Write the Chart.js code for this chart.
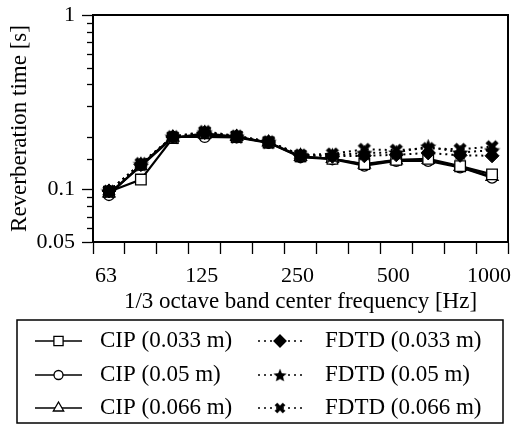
<!DOCTYPE html>
<html>
<head>
<meta charset="utf-8">
<script src="https://cdn.jsdelivr.net/npm/chart.js"></script>
<style>
  html, body { margin: 0; padding: 0; background: #fff; }
  #wrap { width: 512px; height: 428px; }
</style>
</head>
<body>
<div id="wrap"><canvas id="rtChart" width="512" height="428"></canvas></div>
<script>
// band centre frequencies (Hz)
const bands = ['63', '80', '100', '125', '160', '200', '250', '315', '400', '500', '630', '800', '1000'];
const shownBands = ['63', '125', '250', '500', '1000'];
const yTickLabels = [0.05, 0.1, 1];

// reverberation time (s)
const cip033 = [0.097, 0.114, 0.197, 0.210, 0.200, 0.186, 0.155, 0.150, 0.140, 0.148, 0.150, 0.136, 0.122];
const cip050 = [0.093, 0.138, 0.200, 0.200, 0.199, 0.185, 0.153, 0.149, 0.137, 0.146, 0.146, 0.134, 0.117];
const cip066 = [0.095, 0.136, 0.198, 0.206, 0.200, 0.186, 0.154, 0.150, 0.139, 0.147, 0.148, 0.135, 0.118];
const fdtd033 = [0.098, 0.139, 0.200, 0.212, 0.202, 0.187, 0.157, 0.155, 0.156, 0.158, 0.162, 0.157, 0.156];
const fdtd050 = [0.098, 0.140, 0.201, 0.213, 0.202, 0.188, 0.158, 0.157, 0.162, 0.163, 0.176, 0.163, 0.168];
const fdtd066 = [0.098, 0.141, 0.201, 0.215, 0.203, 0.188, 0.158, 0.160, 0.170, 0.168, 0.172, 0.170, 0.176];

const FONT = "'Liberation Serif', 'Times New Roman', serif";

// * custom marker images
function makeStar(size) {
  const c = document.createElement('canvas');
  c.width = size; c.height = size;
  const g = c.getContext('2d');
  const cx = size / 2, cy = size / 2 + 0.8, R = size / 2, r = R * 0.45;
  g.beginPath();
  for (let i = 0; i < 10; i++) {
    const rad = (i % 2 === 0) ? R : r;
    const a = -Math.PI / 2 + i * Math.PI / 5;
    const px = cx + rad * Math.cos(a), py = cy + rad * Math.sin(a);
    if (i === 0) g.moveTo(px, py); else g.lineTo(px, py);
  }
  g.closePath();
  g.fillStyle = '#000';
  g.fill();
  return c;
}
function makeCross(size) {
  const c = document.createElement('canvas');
  c.width = size; c.height = size;
  const g = c.getContext('2d');
  const p = 3;
  g.strokeStyle = '#000';
  g.lineWidth = 4.5;
  g.beginPath();
  g.moveTo(p, p); g.lineTo(size - p, size - p);
  g.moveTo(size - p, p); g.lineTo(p, size - p);
  g.stroke();
  return c;
}
const starImg = makeStar(17);
const crossImg = makeCross(16);

function cipSet(label, data, style, radius) {
  return {
    label: label, data: data, order: 1,
    borderColor: '#000', borderWidth: 2.2,
    pointStyle: style, pointRadius: radius,
    pointBackgroundColor: '#fff', pointBorderColor: '#000', pointBorderWidth: 1.3,
    tension: 0, fill: false
  };
}
function fdtdSet(label, data, style, radius) {
  return {
    label: label, data: data, order: 0,
    borderColor: '#000', borderWidth: 2, borderDash: [2, 4],
    pointStyle: style, pointRadius: radius,
    pointBackgroundColor: '#000', pointBorderColor: '#000', pointBorderWidth: 1,
    tension: 0, fill: false
  };
}

// draws the plot frame, minor y ticks and the boxed legend
const framePlugin = {
  id: 'frame',
  afterDraw(chart) {
    const ctx = chart.ctx;
    const a = chart.chartArea;
    ctx.save();
    ctx.strokeStyle = '#000';
    ctx.lineWidth = 2;
    ctx.strokeRect(a.left, a.top, a.right - a.left, a.bottom - a.top);

    // minor ticks on the log axis
    const ys = chart.scales.y;
    ctx.lineWidth = 1.3;
    ys.ticks.forEach(t => {
      if (yTickLabels.indexOf(t.value) >= 0) return;
      const py = Math.round(ys.getPixelForValue(t.value)) + 0.5;
      ctx.beginPath();
      ctx.moveTo(a.left - 6, py);
      ctx.lineTo(a.left, py);
      ctx.stroke();
    });

    // legend box
    const box = { x: 17, y: 320, w: 486, h: 103 };
    ctx.lineWidth = 1.5;
    ctx.strokeRect(box.x, box.y, box.w, box.h);
    const rows = [341, 375, 408];
    const cols = [{ x0: 35, x1: 82, tx: 100 }, { x0: 258, x1: 302, tx: 325 }];
    ctx.font = '23px ' + FONT;
    ctx.textBaseline = 'middle';
    chart.data.datasets.forEach((ds, i) => {
      const col = cols[Math.floor(i / 3)];
      const y = rows[i % 3];
      ctx.strokeStyle = '#000';
      ctx.lineWidth = 1.5;
      ctx.setLineDash(ds.borderDash ? ds.borderDash : []);
      ctx.beginPath();
      ctx.moveTo(col.x0, y);
      ctx.lineTo(col.x1, y);
      ctx.stroke();
      ctx.setLineDash([]);
      const cx = (col.x0 + col.x1) / 2;
      if (ds.pointStyle instanceof HTMLCanvasElement) {
        const s = ds.pointStyle.width - 3;
        ctx.drawImage(ds.pointStyle, cx - s / 2, y - s / 2, s, s);
      } else {
        const r = ds.pointRadius - 1;
        ctx.fillStyle = ds.pointBackgroundColor;
        ctx.lineWidth = 1.3;
        ctx.beginPath();
        if (ds.pointStyle === 'rect') {
          const s = r * Math.SQRT1_2;
          ctx.rect(cx - s, y - s, 2 * s, 2 * s);
        } else if (ds.pointStyle === 'circle') {
          ctx.arc(cx, y, r, 0, Math.PI * 2);
        } else if (ds.pointStyle === 'triangle') {
          ctx.moveTo(cx, y - r);
          ctx.lineTo(cx + r * 0.866, y + r / 2);
          ctx.lineTo(cx - r * 0.866, y + r / 2);
          ctx.closePath();
        } else if (ds.pointStyle === 'rectRot') {
          ctx.moveTo(cx, y - r); ctx.lineTo(cx + r, y);
          ctx.lineTo(cx, y + r); ctx.lineTo(cx - r, y);
          ctx.closePath();
        }
        ctx.fill();
        ctx.stroke();
      }
      ctx.fillStyle = '#000';
      ctx.fillText(ds.label, col.tx, y);
    });
    ctx.restore();
  }
};

function noPad(scale) {
  scale.paddingLeft = 0;
  scale.paddingRight = 0;
  scale.paddingTop = 0;
  scale.paddingBottom = 0;
}

const ctx = document.getElementById('rtChart').getContext('2d');

// * reverberation time line chart
const chart = new Chart(ctx, {
  type: 'line',
  data: {
    labels: bands,
    datasets: [
      cipSet('CIP (0.033 m)', cip033, 'rect', 7.5),
      cipSet('CIP (0.05 m)', cip050, 'circle', 5.5),
      cipSet('CIP (0.066 m)', cip066, 'triangle', 7),
      fdtdSet('FDTD (0.033 m)', fdtd033, 'rectRot', 7),
      fdtdSet('FDTD (0.05 m)', fdtd050, starImg, 8),
      fdtdSet('FDTD (0.066 m)', fdtd066, crossImg, 8)
    ]
  },
  options: {
    responsive: false,
    animation: false,
    events: [],
    layout: { autoPadding: false, padding: { left: 4, right: 4, top: 15, bottom: 110 } },
    plugins: {
      legend: { display: false },
      tooltip: { enabled: false }
    },
    scales: {
      x: {
        type: 'category',
        offset: true,
        grid: {
          offset: true, drawOnChartArea: false, drawTicks: true,
          tickLength: 12, tickColor: '#000', tickWidth: 1.3
        },
        border: { display: true, color: '#000', width: 2 },
        ticks: {
          autoSkip: false, maxRotation: 0, padding: 9, labelOffset: -3, color: '#000',
          font: { family: FONT, size: 22 },
          callback: function (val) {
            const lab = this.getLabelForValue(val);
            return shownBands.indexOf(lab) >= 0 ? lab : '';
          }
        },
        title: {
          display: true, text: '1/3 octave band center frequency [Hz]', color: '#000',
          font: { family: FONT, size: 23 }, padding: { top: 0, bottom: 2 }
        },
        afterFit: function (scale) {
          scale.height = 76;
          noPad(scale);
        }
      },
      y: {
        type: 'logarithmic',
        min: 0.05, max: 1,
        grid: {
          drawOnChartArea: false, drawTicks: true, tickLength: 11, tickWidth: 1.3,
          tickColor: function (c) {
            return yTickLabels.indexOf(c.tick.value) >= 0 ? '#000' : 'rgba(0,0,0,0)';
          }
        },
        border: { display: true, color: '#000', width: 2 },
        ticks: {
          padding: 7, color: '#000', autoSkip: false,
          font: { family: FONT, size: 22 },
          callback: function (val) {
            return yTickLabels.indexOf(val) >= 0 ? String(val) : '';
          }
        },
        title: {
          display: true, text: 'Reverberation time [s]', color: '#000',
          font: { family: FONT, size: 23 }, padding: { top: 2, bottom: 0 }
        },
        afterFit: function (scale) {
          scale.width = 89;
          noPad(scale);
        }
      }
    }
  },
  plugins: [framePlugin]
});
// * reverberation time line chart end
</script>
</body>
</html>
